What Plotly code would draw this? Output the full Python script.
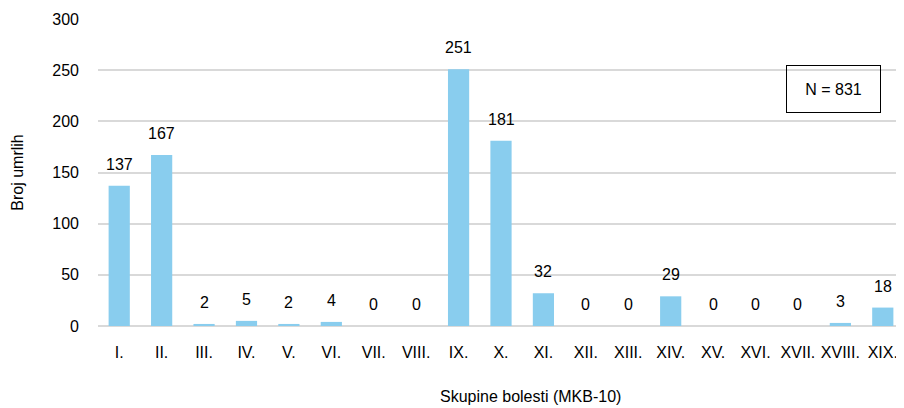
import plotly.graph_objects as go

categories = ["I.", "II.", "III.", "IV.", "V.", "VI.", "VII.", "VIII.", "IX.", "X.",
              "XI.", "XII.", "XIII.", "XIV.", "XV.", "XVI.", "XVII.", "XVIII.", "XIX."]
values = [137, 167, 2, 5, 2, 4, 0, 0, 251, 181, 32, 0, 0, 29, 0, 0, 0, 3, 18]
y_ticks = [0, 50, 100, 150, 200, 250, 300]
total_label = "N = 831"
x_title = "Skupine bolesti (MKB-10)"

FONT = "Liberation Sans Narrow, Arial Narrow, Liberation Sans, Arial, sans-serif"

fig = go.Figure(go.Bar(x=categories, y=values, marker_color="#89CDEE",
                       marker_line_width=0, width=0.5))

for c, v in zip(categories, values):
    fig.add_annotation(x=c, y=v, text=str(v), showarrow=False, yanchor="bottom",
                       yshift=11, font=dict(size=16, color="#000000", family=FONT))

fig.add_annotation(xref="paper", yref="paper", x=0.913, y=0.772, text=total_label,
                   xanchor="center", yanchor="middle",
                   showarrow=False, bordercolor="#000000", borderwidth=1,
                   borderpad=7, width=79, height=32,
                   font=dict(size=16, color="#000000", family=FONT))

# x-axis title, placed slightly right of centre as in the reference
fig.add_annotation(xref="paper", yref="paper", x=0.537, y=-0.231, text=x_title,
                   xanchor="center", yanchor="middle", showarrow=False,
                   font=dict(size=16, color="#000000", family=FONT))

# page body adds an 8px offset; compensate so the figure fills the 904x408 window
fig.update_layout(
    width=896, height=400,
    margin=dict(l=90, r=0, t=11, b=82),
    plot_bgcolor="white", paper_bgcolor="white",
    showlegend=False,
    bargap=0.5,
    font=dict(family=FONT, size=16, color="#000000"),
    xaxis=dict(tickfont=dict(size=16, family=FONT), showgrid=False,
               ticks="", ticklabelstandoff=15),
    yaxis=dict(title=dict(text="Broj umrlih", standoff=24, font=dict(size=16, family=FONT)),
               range=[0, 300], tickvals=y_ticks, tickfont=dict(size=16, family=FONT),
               showgrid=True, gridcolor="#d9d9d9", gridwidth=1.5,
               zeroline=True, zerolinecolor="#d9d9d9", zerolinewidth=1.5,
               ticks="", ticklabelstandoff=18),
)

fig.write_html("out.html")
